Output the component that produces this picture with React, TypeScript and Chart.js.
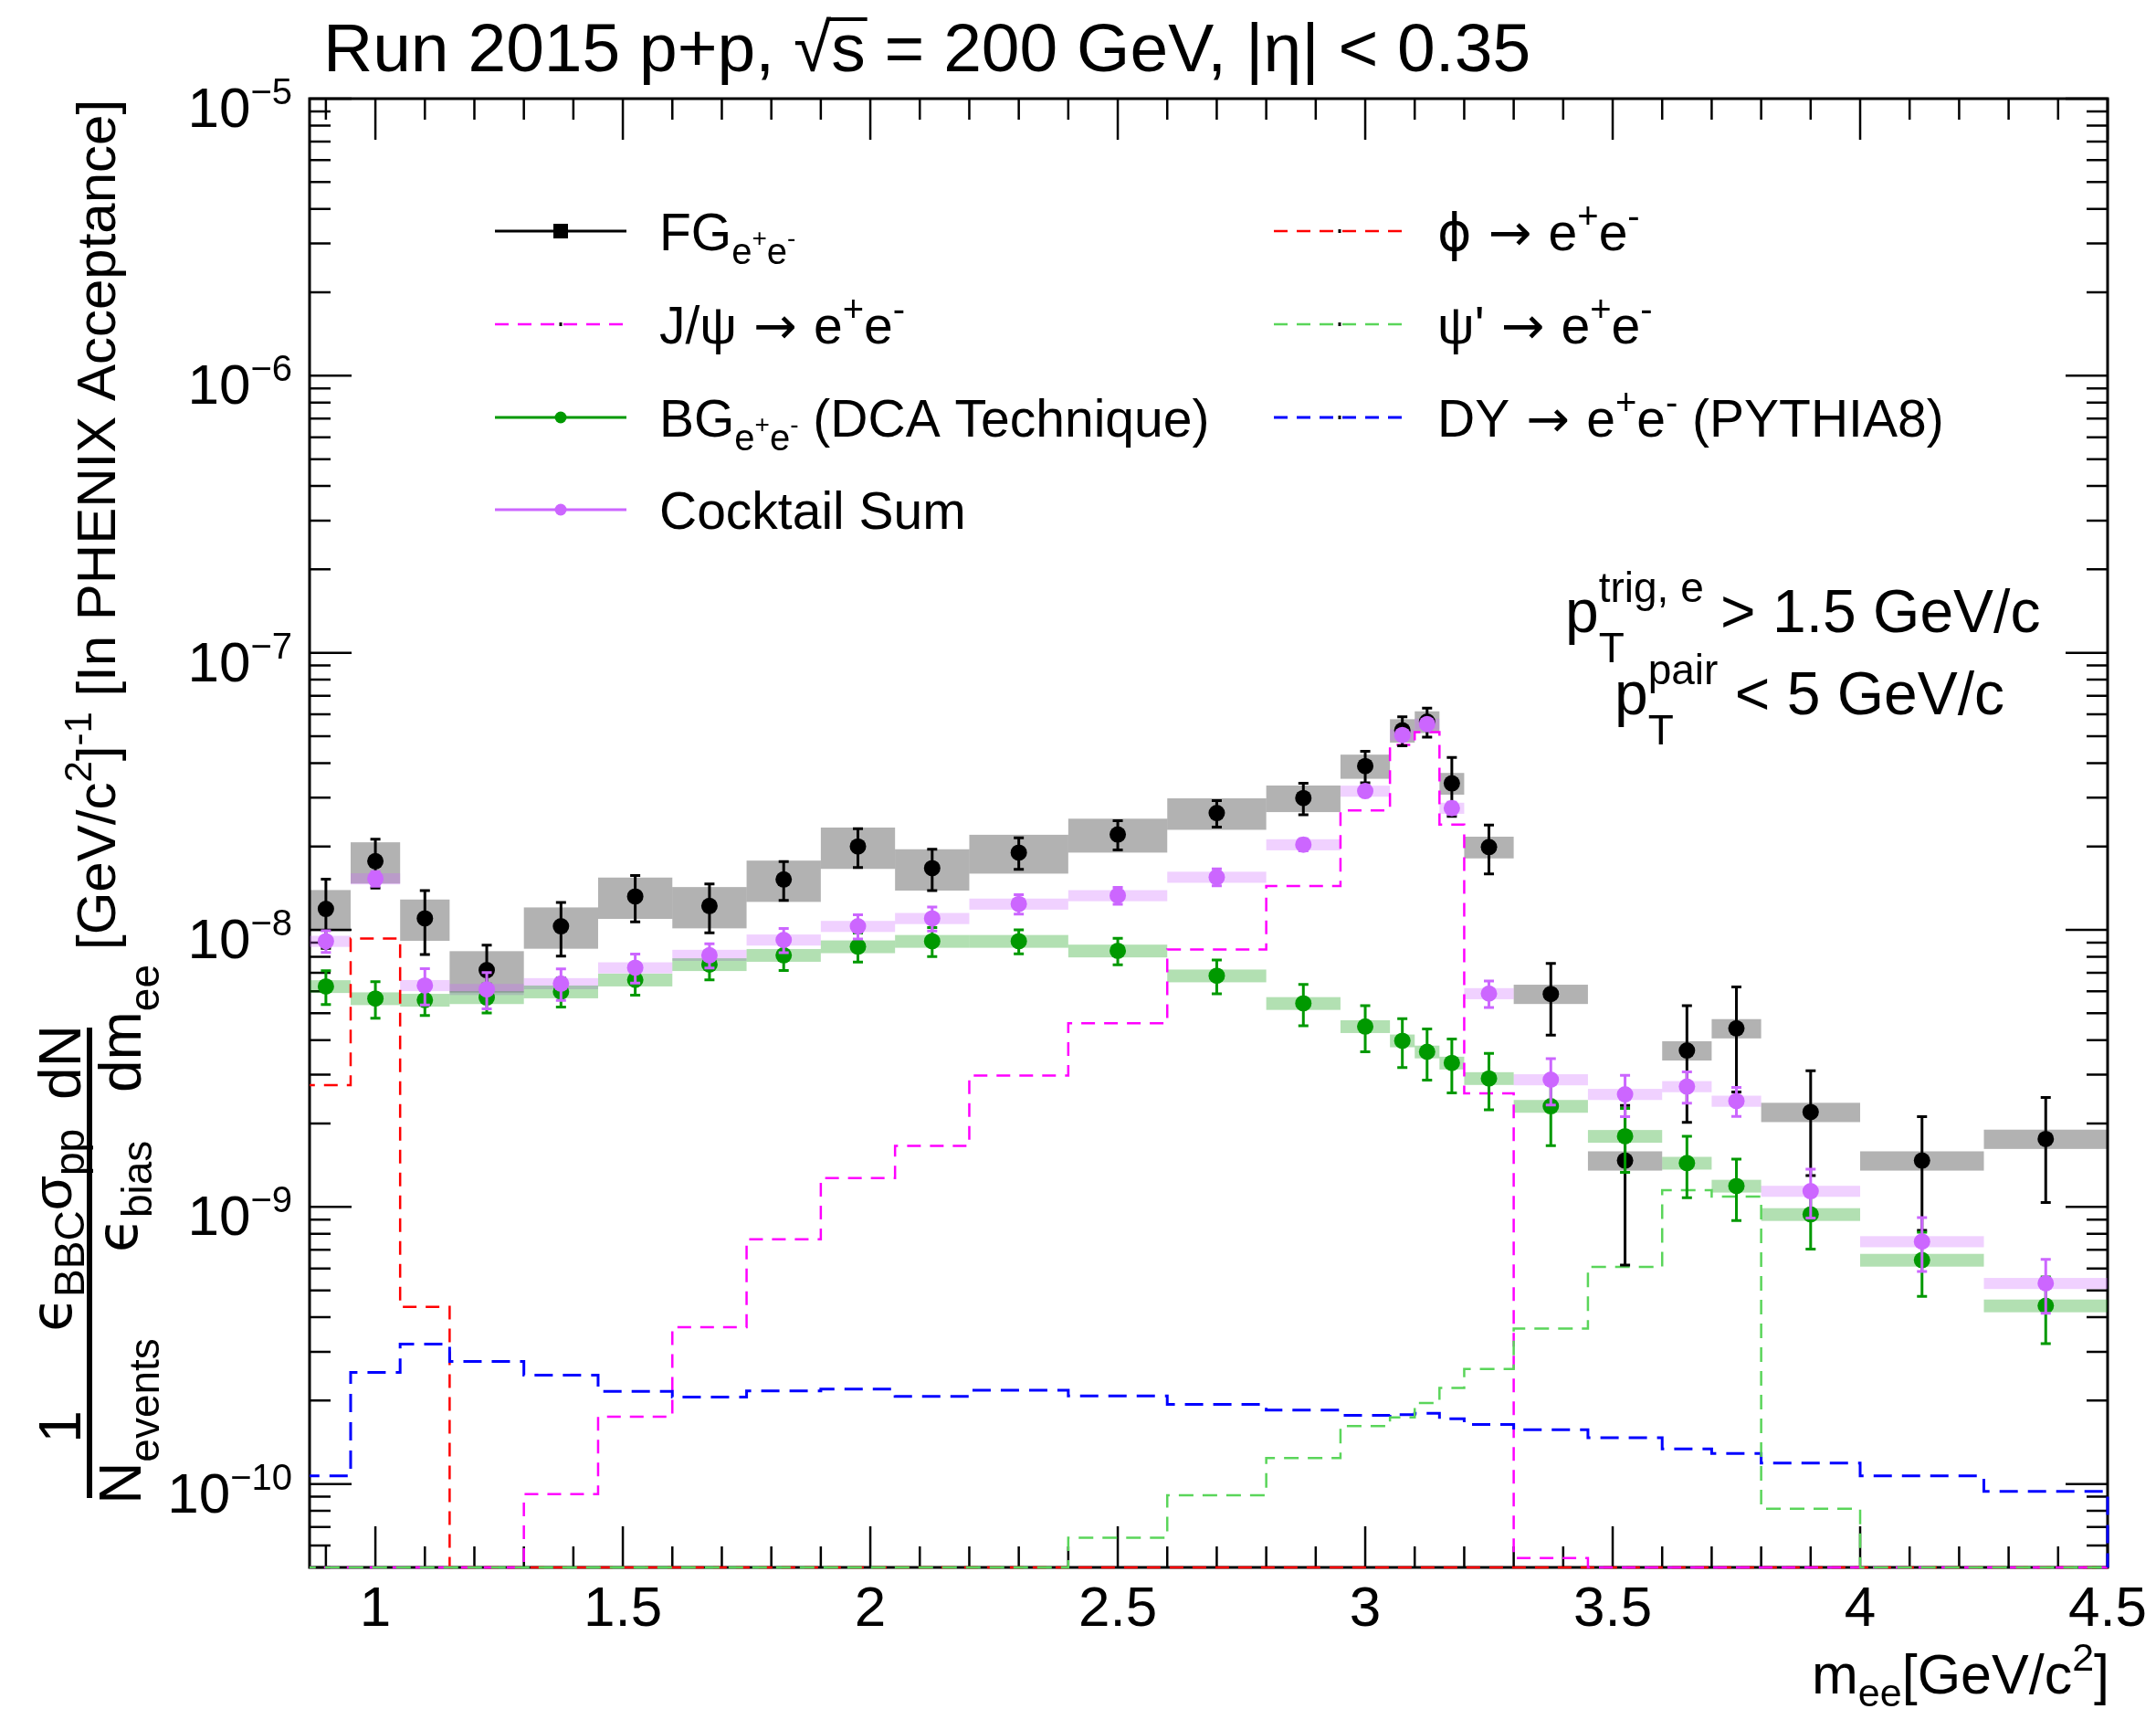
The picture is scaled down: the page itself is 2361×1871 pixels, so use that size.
import React, { useEffect, useRef } from 'react';
import { Chart, registerables } from 'chart.js';

Chart.register(...registerables);

const W = 2361;
const H = 1871;
const FONT = '"Liberation Sans", Arial, Helvetica, sans-serif';
const SYM = '"DejaVu Sans", "Liberation Sans", sans-serif';

const X_MIN = 0.867;
const X_MAX = 4.5;
const Y_MIN = 5e-11;
const Y_MAX = 1e-5;

// ---- data (per mass bin) ----
const binEdges = [0.85, 0.95, 1.05, 1.15, 1.3, 1.45, 1.6, 1.75, 1.9, 2.05, 2.2, 2.4, 2.6, 2.8, 2.95, 3.05, 3.1, 3.15, 3.2, 3.3, 3.45, 3.6, 3.7, 3.8, 4.0, 4.25, 4.5];

const fgValues = [1.19e-8, 1.77e-8, 1.1e-8, 7.16e-9, 1.03e-8, 1.32e-8, 1.22e-8, 1.52e-8, 2.0e-8, 1.67e-8, 1.9e-8, 2.21e-8, 2.64e-8, 2.99e-8, 3.9e-8, 5.25e-8, 5.64e-8, 3.38e-8, 1.99e-8, 5.87e-9, 1.47e-9, 3.67e-9, 4.41e-9, 2.2e-9, 1.47e-9, 1.76e-9];
const fgStatRel = [0.28, 0.2, 0.26, 0.23, 0.22, 0.19, 0.2, 0.16, 0.16, 0.17, 0.13, 0.12, 0.11, 0.13, 0.13, 0.12, 0.12, 0.24, 0.2, 0.29, 0.58, 0.45, 0.41, 0.41, 0.44, 0.41];
const fgSysRel = [0.17, 0.17, 0.17, 0.17, 0.17, 0.17, 0.17, 0.17, 0.17, 0.17, 0.16, 0.14, 0.13, 0.11, 0.1, 0.097, 0.09, 0.09, 0.09, 0.08, 0.08, 0.08, 0.08, 0.08, 0.08, 0.08];

const bgValues = [6.25e-9, 5.65e-9, 5.58e-9, 5.7e-9, 5.98e-9, 6.6e-9, 7.5e-9, 8.1e-9, 8.7e-9, 9.1e-9, 9.1e-9, 8.4e-9, 6.83e-9, 5.43e-9, 4.48e-9, 3.98e-9, 3.63e-9, 3.31e-9, 2.91e-9, 2.31e-9, 1.8e-9, 1.44e-9, 1.19e-9, 9.4e-10, 6.43e-10, 4.4e-10];
const bgStatRel = [0.14, 0.15, 0.12, 0.12, 0.12, 0.12, 0.12, 0.12, 0.12, 0.12, 0.1, 0.11, 0.14, 0.17, 0.19, 0.2, 0.21, 0.22, 0.23, 0.28, 0.26, 0.25, 0.25, 0.25, 0.26, 0.27];
const bgSysRel = [0.053, 0.053, 0.053, 0.053, 0.053, 0.053, 0.053, 0.053, 0.053, 0.053, 0.053, 0.053, 0.053, 0.053, 0.053, 0.053, 0.053, 0.053, 0.053, 0.053, 0.053, 0.053, 0.053, 0.053, 0.053, 0.053];

const csValues = [9.1e-9, 1.53e-8, 6.3e-9, 6.1e-9, 6.4e-9, 7.3e-9, 8.1e-9, 9.2e-9, 1.03e-8, 1.1e-8, 1.24e-8, 1.33e-8, 1.55e-8, 2.03e-8, 3.17e-8, 5.05e-8, 5.53e-8, 2.75e-8, 5.89e-9, 2.88e-9, 2.55e-9, 2.72e-9, 2.41e-9, 1.14e-9, 7.5e-10, 5.3e-10];
const csStatRel = [0.09, 0.06, 0.15, 0.15, 0.13, 0.12, 0.1, 0.1, 0.1, 0.1, 0.08, 0.07, 0.07, 0.05, 0.04, 0.04, 0.04, 0.05, 0.11, 0.19, 0.17, 0.13, 0.12, 0.2, 0.22, 0.22];
const csSysRel = [0.046, 0.046, 0.046, 0.046, 0.046, 0.046, 0.046, 0.046, 0.046, 0.046, 0.046, 0.046, 0.046, 0.046, 0.046, 0.046, 0.046, 0.046, 0.046, 0.046, 0.046, 0.046, 0.046, 0.046, 0.046, 0.046];

const phiHist = [2.75e-9, 9.3e-9, 4.36e-10, 0, 0, 0, 0, 0, 0, 0, 0, 0, 0, 0, 0, 0, 0, 0, 0, 0, 0, 0, 0, 0, 0, 0];
const jpsiHist = [0, 0, 0, 0, 9.2e-11, 1.75e-10, 3.68e-10, 7.65e-10, 1.27e-9, 1.66e-9, 2.98e-9, 4.6e-9, 8.5e-9, 1.44e-8, 2.7e-8, 4.65e-8, 5.17e-8, 2.4e-8, 2.57e-9, 5.4e-11, 0, 0, 0, 0, 0, 0];
const psipHist = [0, 0, 0, 0, 0, 0, 0, 0, 0, 0, 0, 6.4e-11, 9.1e-11, 1.24e-10, 1.62e-10, 1.74e-10, 1.96e-10, 2.22e-10, 2.6e-10, 3.64e-10, 6.08e-10, 1.15e-9, 1.09e-9, 8.15e-11, 0, 0];
const dyHist = [1.07e-10, 2.53e-10, 3.2e-10, 2.77e-10, 2.47e-10, 2.16e-10, 2.06e-10, 2.17e-10, 2.2e-10, 2.07e-10, 2.18e-10, 2.08e-10, 1.94e-10, 1.85e-10, 1.77e-10, 1.78e-10, 1.8e-10, 1.72e-10, 1.64e-10, 1.57e-10, 1.47e-10, 1.34e-10, 1.29e-10, 1.19e-10, 1.07e-10, 9.4e-11];

const xTickValues = [1, 1.5, 2, 2.5, 3, 3.5, 4, 4.5];
const xTickLabels = ['1', '1.5', '2', '2.5', '3', '3.5', '4', '4.5'];
const yTickExponents = [-10, -9, -8, -7, -6, -5];

// ---- colours ----
const C_FG = '#000000';
const C_BG = '#009900';
const C_CS = '#cc66ff';
const C_PHI = '#ff0000';
const C_JPSI = '#ff00ff';
const C_PSIP = '#5ad55a';
const C_DY = '#0000ff';

const binCenters = binEdges.slice(0, -1).map((e, i) => (e + binEdges[i + 1]) / 2);

function histPoints(vals: number[]) {
  const pts = vals.map((v, i) => ({ x: binEdges[i], y: Math.max(v, Y_MIN) }));
  const last = binEdges[binEdges.length - 1];
  pts.push({ x: last, y: Math.max(vals[vals.length - 1], Y_MIN) });
  pts.push({ x: last, y: Y_MIN });
  return pts;
}
function pointData(vals: number[]) {
  return vals.map((v, i) => ({ x: binCenters[i], y: v }));
}

const errSpecs: Record<string, { vals: number[]; stat: number[]; color: string }> = {
  FG: { vals: fgValues, stat: fgStatRel, color: C_FG },
  BG: { vals: bgValues, stat: bgStatRel, color: C_BG },
  CS: { vals: csValues, stat: csStatRel, color: C_CS },
};
const boxSpecs = [
  { vals: fgValues, sys: fgSysRel, color: 'rgba(0,0,0,0.3)' },
  { vals: csValues, sys: csSysRel, color: 'rgba(204,102,255,0.3)' },
  { vals: bgValues, sys: bgSysRel, color: 'rgba(0,153,0,0.3)' },
];

function fnt(size: number, fam?: string) {
  return `${size}px ${fam || FONT}`;
}

interface Seg { t: string; s: number; dy?: number; stack?: boolean; f?: string }

function layoutSegs(ctx: CanvasRenderingContext2D, segs: Seg[], draw: boolean, x0: number, y: number) {
  let cx = x0;
  let prevStart = x0;
  let prevW = 0;
  for (const sg of segs) {
    ctx.font = fnt(sg.s, sg.f);
    const sw = ctx.measureText(sg.t).width;
    if (sg.stack) {
      if (draw) ctx.fillText(sg.t, prevStart, y + (sg.dy || 0));
      const nw = Math.max(prevW, sw);
      cx = prevStart + nw;
      prevW = nw;
    } else {
      if (draw) ctx.fillText(sg.t, cx, y + (sg.dy || 0));
      prevStart = cx;
      prevW = sw;
      cx += sw;
    }
  }
  return cx - x0;
}
function drawSegs(ctx: CanvasRenderingContext2D, segs: Seg[], x: number, y: number, align: 'left' | 'right' | 'center' = 'left') {
  const w = layoutSegs(ctx, segs, false, 0, 0);
  const x0 = align === 'left' ? x : align === 'right' ? x - w : x - w / 2;
  ctx.textAlign = 'left';
  ctx.textBaseline = 'alphabetic';
  layoutSegs(ctx, segs, true, x0, y);
  return w;
}

const L = 57; // legend font
const LS = 40; // legend sub font
const ARROW: Seg = { t: ' \u2192 ', s: L, f: SYM };
const eePlusMinusSup: Seg[] = [
  { t: 'e', s: L },
  { t: '+', s: LS, dy: -24 },
  { t: 'e', s: L },
  { t: '-', s: LS, dy: -24 },
];
const eeSub: Seg[] = [
  { t: 'e', s: LS, dy: 15 },
  { t: '+', s: 28, dy: -4 },
  { t: 'e', s: LS, dy: 15 },
  { t: '-', s: 28, dy: -4 },
];

const legendEntries = [
  { col: 0, row: 0, kind: 'fg', color: C_FG, segs: [{ t: 'FG', s: L }, ...eeSub] },
  { col: 0, row: 1, kind: 'dash', color: C_JPSI, segs: [{ t: 'J/\u03C8', s: L }, ARROW, ...eePlusMinusSup] },
  { col: 0, row: 2, kind: 'dot', color: C_BG, segs: [{ t: 'BG', s: L }, ...eeSub, { t: ' (DCA Technique)', s: L }] },
  { col: 0, row: 3, kind: 'dot', color: C_CS, segs: [{ t: 'Cocktail Sum', s: L }] },
  { col: 1, row: 0, kind: 'dash', color: C_PHI, segs: [{ t: '\u03D5', s: L, f: SYM }, ARROW, ...eePlusMinusSup] },
  { col: 1, row: 1, kind: 'dash', color: C_PSIP, segs: [{ t: "\u03C8'", s: L }, ARROW, ...eePlusMinusSup] },
  { col: 1, row: 2, kind: 'dash', color: C_DY, segs: [{ t: 'DY', s: L }, ARROW, ...eePlusMinusSup, { t: ' (PYTHIA8)', s: L }] },
];

const bgPlugin = {
  id: 'whiteBg',
  beforeDraw(chart: any) {
    const ctx = chart.ctx;
    ctx.save();
    ctx.fillStyle = '#ffffff';
    ctx.fillRect(0, 0, chart.width, chart.height);
    ctx.restore();
  },
};

const framePlugin = {
  id: 'rootFrame',
  beforeDatasetsDraw(chart: any) {
    const { ctx, chartArea: a, scales } = chart;
    const xs = scales.x;
    const ys = scales.y;
    ctx.save();
    ctx.strokeStyle = '#000';
    ctx.lineWidth = 3;
    ctx.strokeRect(a.left, a.top, a.right - a.left, a.bottom - a.top);
    ctx.lineWidth = 2.5;
    ctx.beginPath();
    for (let k = 9; k <= 45; k++) {
      const v = k / 10;
      if (v < X_MIN || v > X_MAX + 1e-9) continue;
      const major = k % 5 === 0;
      const len = major ? 45 : 23;
      const px = xs.getPixelForValue(v);
      ctx.moveTo(px, a.bottom);
      ctx.lineTo(px, a.bottom - len);
      ctx.moveTo(px, a.top);
      ctx.lineTo(px, a.top + len);
    }
    for (let d = -11; d <= -5; d++) {
      for (let k = 1; k <= 9; k++) {
        const v = k * Math.pow(10, d);
        if (v < Y_MIN * 0.999 || v > Y_MAX * 1.001) continue;
        const len = k === 1 ? 46 : 23;
        const py = ys.getPixelForValue(v);
        ctx.moveTo(a.left, py);
        ctx.lineTo(a.left + len, py);
        ctx.moveTo(a.right, py);
        ctx.lineTo(a.right - len, py);
      }
    }
    ctx.stroke();

    // systematic boxes
    ctx.beginPath();
    ctx.rect(a.left, a.top, a.right - a.left, a.bottom - a.top);
    ctx.clip();
    for (const b of boxSpecs) {
      ctx.fillStyle = b.color;
      b.vals.forEach((v, i) => {
        const x1 = xs.getPixelForValue(binEdges[i]);
        const x2 = xs.getPixelForValue(binEdges[i + 1]);
        const y1 = ys.getPixelForValue(v * (1 + b.sys[i]));
        const y2 = ys.getPixelForValue(v * (1 - b.sys[i]));
        ctx.fillRect(x1, y1, x2 - x1, y2 - y1);
      });
    }
    ctx.restore();
  },
};

const errorBarPlugin = {
  id: 'errBars',
  beforeDatasetDraw(chart: any, args: any) {
    const ds = chart.data.datasets[args.index];
    const spec = errSpecs[ds.label];
    if (!spec) return;
    const { ctx, chartArea: a, scales } = chart;
    const xs = scales.x;
    const ys = scales.y;
    ctx.save();
    ctx.beginPath();
    ctx.rect(a.left, a.top, a.right - a.left, a.bottom - a.top);
    ctx.clip();
    ctx.strokeStyle = spec.color;
    ctx.lineWidth = 3;
    ctx.beginPath();
    spec.vals.forEach((v, i) => {
      const e = v * spec.stat[i];
      const px = xs.getPixelForValue(binCenters[i]);
      const pt = ys.getPixelForValue(v + e);
      const pb = ys.getPixelForValue(Math.max(v - e, Y_MIN * 0.5));
      ctx.moveTo(px, pt);
      ctx.lineTo(px, pb);
      ctx.moveTo(px - 5.5, pt);
      ctx.lineTo(px + 5.5, pt);
      ctx.moveTo(px - 5.5, pb);
      ctx.lineTo(px + 5.5, pb);
    });
    ctx.stroke();
    ctx.restore();
  },
};

const textPlugin = {
  id: 'rootText',
  afterDraw(chart: any) {
    const { ctx, scales } = chart;
    const xs = scales.x;
    const ys = scales.y;
    ctx.save();
    ctx.fillStyle = '#000';

    // x tick labels
    ctx.font = fnt(62);
    ctx.textAlign = 'center';
    ctx.textBaseline = 'alphabetic';
    xTickValues.forEach((v, i) => {
      ctx.fillText(xTickLabels[i], xs.getPixelForValue(v), 1780);
    });
    // y tick labels
    yTickExponents.forEach((ex) => {
      const py = ys.getPixelForValue(Math.pow(10, ex));
      drawSegs(ctx, [{ t: '10', s: 62 }, { t: '\u2212' + String(-ex), s: 40, dy: -25 }], 320, py + 31, 'right');
    });

    // title
    {
      const y = 78;
      let x = 354;
      ctx.font = fnt(75);
      ctx.textAlign = 'left';
      const p1 = 'Run 2015 p+p, ';
      ctx.fillText(p1, x, y);
      x += ctx.measureText(p1).width;
      const wRoot = ctx.measureText('\u221A').width;
      ctx.fillText('\u221A', x, y);
      const ws = ctx.measureText('s').width;
      ctx.fillText('s', x + wRoot, y);
      ctx.fillRect(x + wRoot - 2, y - 59, ws + 4, 4);
      x += wRoot + ws;
      ctx.fillText(' = 200 GeV, |\u03B7| < 0.35', x, y);
    }

    // x axis title
    drawSegs(ctx, [
      { t: 'm', s: 61 },
      { t: 'ee', s: 43, dy: 14 },
      { t: '[GeV/c', s: 61 },
      { t: '2', s: 43, dy: -25 },
      { t: ']', s: 61 },
    ], 2310, 1854, 'right');

    // pT cut labels
    drawSegs(ctx, [
      { t: 'p', s: 66 },
      { t: 'T', s: 46, dy: 33 },
      { t: 'trig, e', s: 46, dy: -33, stack: true },
      { t: ' > 1.5 GeV/c', s: 66 },
    ], 1714, 692, 'left');
    drawSegs(ctx, [
      { t: 'p', s: 66 },
      { t: 'T', s: 46, dy: 33 },
      { t: 'pair', s: 46, dy: -33, stack: true },
      { t: ' < 5 GeV/c', s: 66 },
    ], 1768, 782, 'left');

    // legend
    const rowsY = [253, 355, 457, 558];
    const lineX = [[542, 686], [1395, 1539]];
    const textX = [722, 1574];
    for (const en of legendEntries) {
      const y = rowsY[en.row];
      const [x1, x2] = lineX[en.col];
      const xm = (x1 + x2) / 2;
      ctx.save();
      ctx.strokeStyle = en.color;
      ctx.fillStyle = en.color;
      ctx.lineWidth = 3;
      if (en.kind === 'dash') {
        ctx.setLineDash([15, 10]);
        ctx.lineWidth = en.color === C_DY ? 3 : 2.5;
      }
      ctx.beginPath();
      ctx.moveTo(x1, y);
      ctx.lineTo(x2, y);
      ctx.stroke();
      ctx.setLineDash([]);
      if (en.kind === 'fg') {
        ctx.fillRect(xm - 8, y - 8, 16, 16);
      } else if (en.kind === 'dot') {
        ctx.beginPath();
        ctx.arc(xm, y, 6.5, 0, Math.PI * 2);
        ctx.fill();
      } else {
        ctx.fillStyle = '#000';
        ctx.fillRect(xm - 1.5, y - 2, 3, 4);
      }
      ctx.restore();
      drawSegs(ctx, en.segs as Seg[], textX[en.col], y + 21, 'left');
    }

    // y axis title (rotated); drawing coords (-screenY, screenX)
    ctx.save();
    ctx.rotate(-Math.PI / 2);
    const F = 62;
    const FS = 46;
    const BAR_X = 98;
    const EPS = '\u03F5';
    const frac = (num: Seg[], den: Seg[], u1: number, u2: number, numC: number, denC: number, numBase: number, denBase: number) => {
      ctx.fillRect(-u1, BAR_X - 3, u1 - u2, 6);
      drawSegs(ctx, num, -numC, numBase, 'center');
      drawSegs(ctx, den, -denC, denBase, 'center');
    };
    frac([{ t: '1', s: 64 }], [{ t: 'N', s: 64 }, { t: 'events', s: FS, dy: 20 }], 1640, 1472, 1562, 1556, 88, 154);
    frac(
      [{ t: EPS, s: F, f: SYM }, { t: 'BBC', s: FS, dy: 14 }, { t: '\u03C3', s: F }, { t: 'pp', s: FS, dy: 14 }],
      [{ t: EPS, s: F, f: SYM }, { t: 'bias', s: FS, dy: 16 }],
      1472, 1260, 1347, 1310, 78, 150,
    );
    frac([{ t: 'dN', s: 64 }], [{ t: 'dm', s: 64 }, { t: 'ee', s: FS, dy: 20 }], 1260, 1125, 1163, 1126, 88, 154);
    drawSegs(ctx, [
      { t: '[GeV/c', s: 60 },
      { t: '2', s: 42, dy: -26 },
      { t: ']', s: 60 },
      { t: '-1', s: 42, dy: -26 },
      { t: ' [In PHENIX Acceptance]', s: 60 },
    ], -1040, 126, 'left');
    ctx.restore();

    ctx.restore();
  },
};

export default function App() {
  const ref = useRef<HTMLCanvasElement>(null);
  useEffect(() => {
    const canvas = ref.current;
    if (!canvas) return;
    const histDs = (label: string, vals: number[], color: string, dash: number[], width: number, order: number) => ({
      type: 'line',
      label,
      data: histPoints(vals),
      borderColor: color,
      borderWidth: width,
      borderDash: dash,
      stepped: true,
      pointRadius: 0,
      fill: false,
      showLine: true,
      order,
      clip: { left: 0, top: 0, right: 3, bottom: 3 },
    });
    const ptDs = (label: string, vals: number[], color: string, order: number) => ({
      type: 'scatter',
      label,
      data: pointData(vals),
      backgroundColor: color,
      borderColor: color,
      pointRadius: 9,
      pointBorderWidth: 0,
      showLine: false,
      order,
    });
    const chart = new Chart(canvas, {
      type: 'scatter',
      data: {
        datasets: [
          histDs('phi', phiHist, C_PHI, [15, 10], 2.5, 14),
          histDs('jpsi', jpsiHist, C_JPSI, [15, 10], 2.5, 13),
          histDs('dy', dyHist, C_DY, [20, 11], 3, 12),
          histDs('psip', psipHist, C_PSIP, [16, 10], 2.5, 11),
          ptDs('FG', fgValues, C_FG, 3),
          ptDs('BG', bgValues, C_BG, 2),
          ptDs('CS', csValues, C_CS, 1),
        ] as any,
      },
      options: {
        responsive: false,
        animation: false,
        devicePixelRatio: 1,
        layout: { padding: { left: 339, top: 108, right: W - 2308, bottom: H - 1716 } },
        plugins: {
          legend: { display: false },
          tooltip: { enabled: false },
          title: { display: false },
        },
        events: [],
        scales: {
          x: { type: 'linear', min: X_MIN, max: X_MAX, display: false },
          y: { type: 'logarithmic', min: Y_MIN, max: Y_MAX, display: false },
        },
      } as any,
      plugins: [bgPlugin, framePlugin, errorBarPlugin, textPlugin],
    });
    return () => chart.destroy();
  }, []);
  return (
    <div style={{ position: 'absolute', left: 0, top: 0, width: W, height: H, background: '#fff' }}>
      <canvas ref={ref} width={W} height={H} style={{ display: 'block', width: W, height: H }} />
    </div>
  );
}
